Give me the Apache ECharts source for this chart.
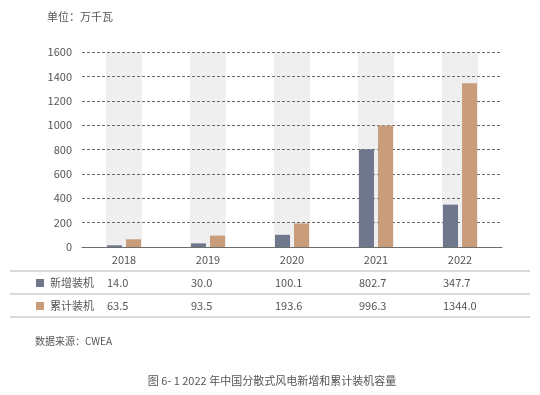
<!DOCTYPE html>
<html><head><meta charset="utf-8">
<script src="https://cdn.jsdelivr.net/npm/echarts@6/dist/echarts.min.js"></script>
<style>html,body{margin:0;padding:0;background:#fff}#c{width:540px;height:395px}</style>
</head><body><div id="c"></div>
<script>
const years = ['2018', '2019', '2020', '2021', '2022'];
const newInstalled = [14.0, 30.0, 100.1, 802.7, 347.7];
const cumulative = [63.5, 93.5, 193.6, 996.3, 1344.0];
const seriesNames = ['新增装机', '累计装机'];
const yMin = 0, yMax = 1600, yStep = 200;
const unitText = '单位：万千瓦';
const sourceText = '数据来源：CWEA';
const captionText = '图 6- 1 2022 年中国分散式风电新增和累计装机容量';

const FONT = '"Noto Sans CJK SC", "Noto Sans", sans-serif';
const colors = ['#6e778b', '#c99d7c'];
const chart = echarts.init(document.getElementById('c'), null, {renderer: 'canvas'});

const option = {
  backgroundColor: '#ffffff',
  animation: false,
  textStyle: {fontFamily: FONT},
  grid: {left: 82, right: 38, top: 52, bottom: 148},
  xAxis: [
    {type: 'category', data: years,
     axisLine: {show: true, lineStyle: {color: '#6d6d6d', width: 1}},
     axisTick: {show: false},
     axisLabel: {color: '#555', fontSize: 11, margin: 7, fontFamily: FONT}},
    {type: 'category', data: years, show: false}
  ],
  yAxis: {type: 'value', min: yMin, max: yMax, interval: yStep,
    axisLine: {show: false}, axisTick: {show: false},
    axisLabel: {color: '#555', fontSize: 11, margin: 10, fontFamily: FONT, formatter: v => String(v)},
    splitLine: {show: true, lineStyle: {color: '#6a6a6a', type: [3, 2], width: 1}}},
  series: [
    {type: 'bar', xAxisIndex: 1, data: years.map(() => yMax), barWidth: 36,
     itemStyle: {color: '#efefef'}, silent: true, z: -1},
    {type: 'bar', name: seriesNames[0], data: newInstalled, barWidth: 15, barGap: '27%',
     itemStyle: {color: colors[0]}},
    {type: 'bar', name: seriesNames[1], data: cumulative, barWidth: 15, barGap: '27%',
     itemStyle: {color: colors[1]}}
  ]
};
chart.setOption(option);

const rowY = [283, 306];
const lineYs = [271, 294, 317];
const g = [];
g.push({type: 'text', left: 47, top: 11, style: {text: unitText, fill: '#555', fontSize: 11, fontFamily: FONT}});
lineYs.forEach(y => g.push({type: 'line', shape: {x1: 10, y1: y, x2: 530, y2: y}, style: {stroke: '#b5b5b5', lineWidth: 1}}));
const rows = [newInstalled, cumulative];
rows.forEach((vals, r) => {
  g.push({type: 'rect', shape: {x: 36, y: rowY[r] - 4, width: 8, height: 8}, style: {fill: colors[r]}});
  g.push({type: 'text', x: 50, y: rowY[r], style: {text: seriesNames[r], fill: '#555', fontSize: 11, fontFamily: FONT, verticalAlign: 'middle'}});
  vals.forEach((v, i) => {
    const cx = chart.convertToPixel({xAxisIndex: 0}, years[i]);
    g.push({type: 'text', x: cx - 17, y: rowY[r], style: {text: v.toFixed(1), fill: '#555', fontSize: 11, fontFamily: FONT, verticalAlign: 'middle'}});
  });
});
g.push({type: 'text', x: 35, y: 341, style: {text: sourceText, fill: '#555', fontSize: 10, fontFamily: FONT, verticalAlign: 'middle'}});
g.push({type: 'text', x: 272, y: 381, style: {text: captionText, fill: '#555', fontSize: 11, fontFamily: FONT, align: 'center', verticalAlign: 'middle'}});
chart.setOption({graphic: g});
</script></body></html>
